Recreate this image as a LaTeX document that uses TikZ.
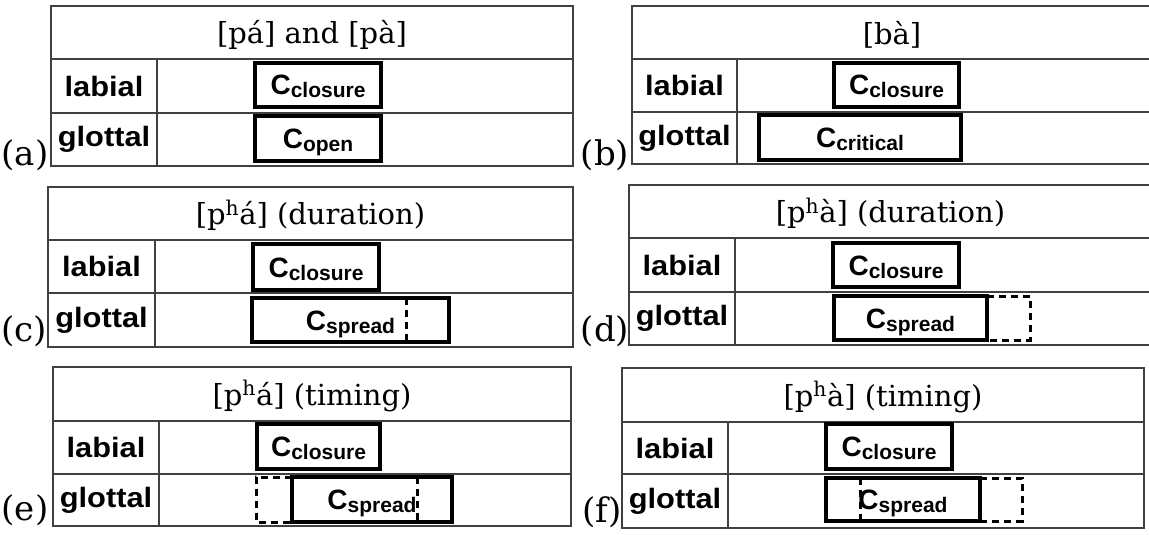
\documentclass[tikz,border=0pt]{standalone}
\usepackage{fontspec}
\setmainfont{DejaVu Serif}
\newfontfamily\rowfont{Liberation Sans}[FakeStretch=1.1]
\newfontfamily\boxfont{Liberation Sans}
\newcommand\Csub[1]{{\fontsize{28}{28}\selectfont C}\raisebox{-3pt}{\fontsize{21}{21}\selectfont #1}}
\tikzset{
  tabline/.style = {draw=black!75, line width=1.3pt},
  rowlab/.style = {inner sep=0pt, font=\rowfont\bfseries\fontsize{28}{28}\selectfont},
  ttl/.style = {inner sep=0pt, font=\fontsize{29}{29}\selectfont},
  tag/.style = {inner sep=0pt, font=\fontsize{34}{34}\selectfont},
  cbox/.style = {draw, line width=3.4pt, inner sep=0pt, outer sep=0pt, anchor=north west,
                 text height=20pt, text depth=0pt, font=\boxfont\bfseries},
  dashline/.style = {line width=3pt, dash pattern=on 7pt off 5pt}
}

\begin{document}
\begin{tikzpicture}[x=1pt,y=-1pt]
\useasboundingbox (0,0) rectangle (1149,535);
% the six tables
\foreach \n/\L/\T/\R/\B/\H/\M/\C/\tx/\ty/\title in {
  a/51/6/573/166/59/113/157/25/155/{[pá] and [pà]},
  b/632/6/1152/164/59/112/737/605/155/{[bà]},
  c/48/187/573/347/240/293/155/24/331/{[p\textsuperscript{h}á] (duration)},
  d/629/185/1152/345/238/292/735/605/331/{[p\textsuperscript{h}à] (duration)},
  e/53/367/571/526/421/474/159/25/510/{[p\textsuperscript{h}á] (timing)},
  f/622/368/1144/528/422/474/728/602/512/{[p\textsuperscript{h}à] (timing)}}
{
  \draw[tabline] (\L,\T) rectangle (\R,\B);
  \draw[tabline] (\L,\H) -- (\R,\H) (\L,\M) -- (\R,\M) (\C,\H) -- (\C,\B);
  \node[ttl] (ttl\n) at ({(\L+\R)/2},{(\T+\H)/2+2}) {\title};
  \node[rowlab] (lab\n) at ({(\L+\C)/2},{(\H+\M)/2}) {labial};
  \node[rowlab] (glo\n) at ({(\L+\C)/2},{(\M+\B)/2}) {glottal};
  \node[tag] (tag\n) at (\tx,\ty) {(\n)};
}
% gestures
\node[cbox, minimum width=126pt, minimum height=44pt] (aclo) at (255,63) {\Csub{closure}};
\node[cbox, minimum width=126pt, minimum height=45pt] (aopn) at (255,116) {\Csub{open}};
\node[cbox, minimum width=125pt, minimum height=44pt] (bclo) at (834,63) {\Csub{closure}};
\node[cbox, minimum width=202pt, minimum height=45pt] (bcri) at (759,115) {\Csub{critical}};
\node[cbox, minimum width=126pt, minimum height=46pt] (cclo) at (253,244) {\Csub{closure}};
\node[cbox, minimum width=197pt, minimum height=44pt] (cspr) at (252,298) {\Csub{spread}};
\node[cbox, minimum width=126pt, minimum height=44pt] (dclo) at (833,243) {\Csub{closure}};
\node[cbox, minimum width=153pt, minimum height=44pt] (dspr) at (834,296) {\Csub{spread}};
\node[cbox, minimum width=123pt, minimum height=45pt] (eclo) at (257,424) {\Csub{closure}};
\node[cbox, minimum width=160pt, minimum height=45pt] (espr) at (292,477) {\Csub{spread}};
\node[cbox, minimum width=126pt, minimum height=45pt] (fclo) at (826,424) {\Csub{closure}};
\node[cbox, minimum width=154pt, minimum height=43pt] (fspr) at (826,478) {\Csub{spread}};
% dashed parts
\draw[dashline] ([xshift=-43pt]cspr.north east) -- ([xshift=-43pt]cspr.south east);
\draw[dashline] (dspr.north east) -- ++(43,0) -- ++(0,44) -- (dspr.south east);
\draw[dashline] (espr.north west) -- ++(-36,0) -- ++(0,45) -- (espr.south west);
\draw[dashline] ([xshift=-35pt]espr.north east) -- ([xshift=-35pt]espr.south east);
\draw[dashline] (fspr.north east) -- ++(42,0) -- ++(0,43) -- (fspr.south east);
\draw[dashline] ([xshift=34pt]fspr.north west) -- ([xshift=34pt]fspr.south west);
\end{tikzpicture}
\end{document}
